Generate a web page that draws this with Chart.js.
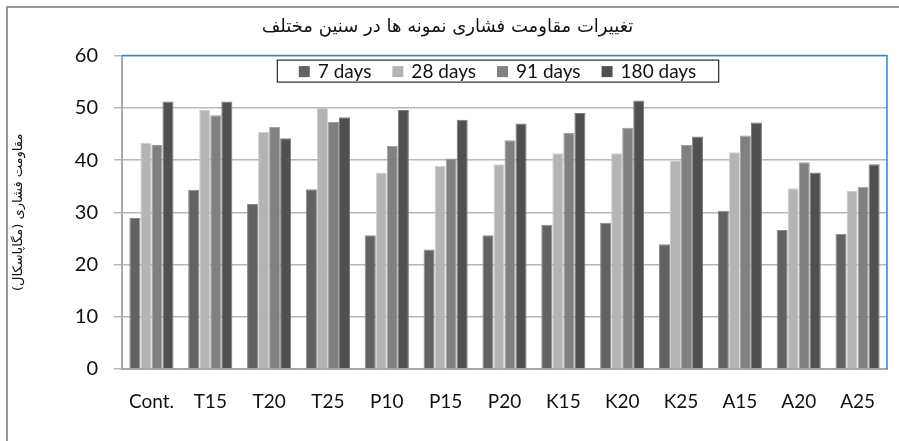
<!DOCTYPE html>
<html>
<head>
<meta charset="utf-8">
<script src="https://cdn.jsdelivr.net/npm/chart.js@4/dist/chart.umd.min.js"></script>
<style>
  html, body { margin: 0; padding: 0; background: #fff; }
  #wrap { position: relative; width: 899px; height: 441px; overflow: hidden; }
  #frame { position: absolute; left: 6px; top: 6px; width: 920px; height: 460px;
           border: 2px solid #9a9a9a; pointer-events: none; }
</style>
</head>
<body>
<div id="wrap">
  <canvas id="graphCanvas" width="899" height="441"></canvas>
  <div id="frame"></div>
</div>
<script>
// data
const labels = ["Cont.", "T15", "T20", "T25", "P10", "P15", "P20", "K15", "K20", "K25", "A15", "A20", "A25"];
const days7 = [28.9, 34.3, 31.6, 34.4, 25.6, 22.9, 25.6, 27.6, 28.0, 23.9, 30.3, 26.6, 25.9];
const days28 = [43.3, 49.6, 45.4, 50.0, 37.6, 38.9, 39.2, 41.3, 41.3, 39.9, 41.5, 34.6, 34.1];
const days91 = [42.9, 48.6, 46.4, 47.3, 42.7, 40.3, 43.8, 45.2, 46.2, 42.9, 44.7, 39.6, 34.9];
const days180 = [51.2, 51.2, 44.2, 48.2, 49.6, 47.7, 47.0, 49.0, 51.4, 44.5, 47.2, 37.6, 39.2];
const yTicks = [0, 10, 20, 30, 40, 50, 60];

const titleText = "تغییرات مقاومت فشاری نمونه ها در سنین مختلف";
const yTitleText = "\u200Fمقاومت فشاری (مگاپاسکال)\u200F";

const latin = "Lato, 'Open Sans', sans-serif";
const persian = "'DejaVu Sans', sans-serif";

// blue border on top and right of the plot area
const plotBorder = {
  id: "plotBorder",
  afterDatasetsDraw(chart) {
    const a = chart.chartArea;
    const ctx = chart.ctx;
    ctx.save();
    ctx.strokeStyle = "#2f86d4";
    ctx.lineWidth = 1.5;
    ctx.beginPath();
    ctx.moveTo(a.left, a.top);
    ctx.lineTo(a.right, a.top);
    ctx.lineTo(a.right, a.bottom);
    ctx.stroke();
    ctx.restore();
  },
};

// legend drawn inside the plot area, with a black box round it
const boxLegend = {
  id: "boxLegend",
  afterDraw(chart) {
    const ctx = chart.ctx;
    const a = chart.chartArea;
    const size = 19;
    const box = 11;
    const gap = 8;
    const spacing = 21;
    ctx.save();
    ctx.font = size + "px " + latin;
    let items = chart.data.datasets.map((ds) => ({
      text: ds.label,
      color: ds.backgroundColor,
      w: box + gap + ctx.measureText(ds.label).width,
    }));
    let total = items.reduce((s, it) => s + it.w, 0) + spacing * (items.length - 1);
    let padX = 22;
    let left = (a.left + a.right) / 2 - total / 2 - 7;
    let top = a.top + 4;
    let h = 22;
    ctx.fillStyle = "#fff";
    ctx.fillRect(left - padX, top, total + padX * 2, h);
    ctx.strokeStyle = "#000";
    ctx.lineWidth = 1;
    ctx.strokeRect(left - padX + 0.5, top + 0.5, total + padX * 2, h);
    let x = left;
    let cy = top + h / 2 + 1;
    ctx.textBaseline = "middle";
    items.forEach((it) => {
      ctx.fillStyle = it.color;
      ctx.fillRect(x, cy - box / 2, box, box);
      ctx.fillStyle = "#111";
      ctx.fillText(it.text, x + box + gap, cy);
      x += it.w + spacing;
    });
    ctx.restore();
  },
};

function graphDraw() {
  let ctx = document.getElementById("graphCanvas").getContext("2d");
  let data = {
    labels: labels,
    datasets: [
      { label: "7 days", data: days7, backgroundColor: "#626262", borderColor: "#8a8a8a" },
      { label: "28 days", data: days28, backgroundColor: "#b4b4b4", borderColor: "#d0d0d0" },
      { label: "91 days", data: days91, backgroundColor: "#808080", borderColor: "#a0a0a0" },
      { label: "180 days", data: days180, backgroundColor: "#505050", borderColor: "#7a7a7a" },
    ],
  };
  data.datasets.forEach((ds) => {
    ds.borderWidth = 1;
    ds.barPercentage = 1;
    ds.categoryPercentage = 0.75;
  });
  let options = {
    responsive: false,
    animation: false,
    layout: { padding: { left: 8, right: 12, top: 0, bottom: 27 } },
    scales: {
      x: {
        grid: { display: false },
        border: { display: true, color: "#a8a8a8", width: 2 },
        ticks: { color: "#111", font: { family: latin, size: 19 }, padding: 13 },
        afterFit(scale) { scale.height = 45; },
      },
      y: {
        min: 0,
        max: 60,
        afterBuildTicks(scale) { scale.ticks = yTicks.map((v) => ({ value: v })); },
        grid: { color: "#b8b8b8", lineWidth: 1.5, tickLength: 8 },
        border: { display: true, color: "#a8a8a8", width: 2 },
        ticks: { color: "#111", font: { family: latin, size: 20 }, padding: 16 },
        title: {
          display: true,
          text: yTitleText,
          color: "#111",
          font: { family: persian, size: 13 },
          padding: { top: 3, bottom: 0 },
        },
        afterFit(scale) { scale.width = 114; },
      },
    },
    plugins: {
      legend: { display: false },
      tooltip: { enabled: false },
      title: {
        display: true,
        text: titleText,
        color: "#111",
        font: { family: persian, size: 18, weight: "normal" },
        padding: { top: 17, bottom: 17 },
      },
    },
  };
  new Chart(ctx, {
    type: "bar",
    data: data,
    options: options,
    plugins: [plotBorder, boxLegend],
  });
}

graphDraw();
</script>
</body>
</html>
